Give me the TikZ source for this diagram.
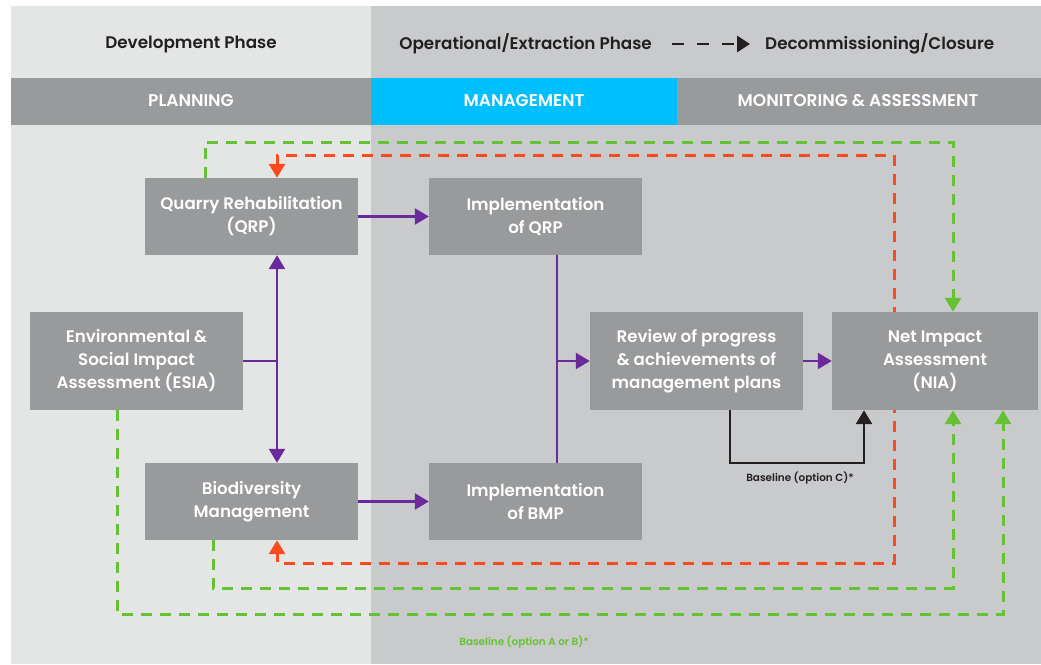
\documentclass[tikz,border=0pt]{standalone}
\usepackage{fontspec}
\setmainfont{Poppins}[BoldFont={* SemiBold}]
\usetikzlibrary{arrows.meta,backgrounds}
\definecolor{lpanel}{HTML}{E4E6E5}
\definecolor{rpanel}{HTML}{C9CACC}
\definecolor{boxgrey}{HTML}{999A9C}
\definecolor{cyanband}{HTML}{00BFFF}
\definecolor{purp}{HTML}{6A2A9C}
\definecolor{redd}{HTML}{FF4A1F}
\definecolor{grn}{HTML}{66C234}
\definecolor{blk}{HTML}{231F20}
\tikzset{
  box/.style={fill=boxgrey, text=white, font=\bfseries\fontsize{16.7}{23}\selectfont,
    minimum width=213pt, inner sep=0pt, align=center},
  bandlabel/.style={text=white, font=\bfseries\fontsize{17}{19}\selectfont},
  phase/.style={text=blk, font=\bfseries\fontsize{16.8}{18}\selectfont, inner sep=0pt},
  tip/.style={-{Triangle[length=14pt,width=16pt]}},
  tips/.style={{Triangle[length=14pt,width=16pt]}-{Triangle[length=14pt,width=16pt]}},
  purpline/.style={draw=purp, line width=2.5pt},
  redline/.style={draw=redd, line width=3pt, dash pattern=on 11pt off 8pt},
  grnline/.style={draw=grn, line width=3pt, dash pattern=on 11pt off 8pt},
  blkline/.style={draw=blk, line width=2.8pt},
  smalllab/.style={font=\bfseries\fontsize{10.4}{12}\selectfont},
}
\begin{document}
\begin{tikzpicture}[x=1pt,y=-1pt]
\useasboundingbox (0,0) rectangle (1041,664);
\begin{scope}[on background layer]
% panels and header bands
\fill[lpanel] (11,6) rectangle (371,664);
\fill[rpanel] (371,6) rectangle (1041,664);
\fill[boxgrey] (11,78) rectangle (371,125);
\fill[cyanband] (371,78) rectangle (677,125);
\fill[boxgrey] (677,78) rectangle (1041,125);
\end{scope}
\node[bandlabel] (plan) at (191,101) {PLANNING};
\node[bandlabel] (mgmt) at (524,101) {MANAGEMENT};
\node[bandlabel] (mon) at (858,101) {MONITORING \& ASSESSMENT};
% phase titles
\node[phase] (dev) at (191,44) {Development Phase};
\node[phase, anchor=east] (op) at (652,44) {Operational/Extraction Phase};
\node[phase, anchor=west] (dec) at (765,44) {Decommissioning/Closure};
\draw[draw=blk, line width=2.8pt, dash pattern=on 12pt off 13pt,
  -{Triangle[length=13pt,width=16pt]}] ([xshift=20pt]op.east) -- ([xshift=-15pt]dec.west);
% boxes
\node[box, minimum height=77pt] (qrp) at (251.5,216.5) {Quarry Rehabilitation\\(QRP)};
\node[box, minimum height=77pt] (iqrp) at (535.5,216.5) {Implementation\\of QRP};
\node[box, minimum height=98pt] (esia) at (136.5,361) {Environmental \&\\Social Impact\\Assessment (ESIA)};
\node[box, minimum height=77pt] (bio) at (251.5,501.5) {Biodiversity\\Management};
\node[box, minimum height=77pt] (ibmp) at (535.5,501.5) {Implementation\\of BMP};
\node[box, minimum height=98pt] (review) at (696.5,361) {Review of progress\\\& achievements of\\management plans};
\node[box, minimum height=98pt, minimum width=206pt] (nia) at (935,361) {Net Impact\\Assessment\\(NIA)};
% route coordinates
\coordinate (vx) at (277,0);
\coordinate (mx) at (557,0);
\coordinate (r1) at (894,155);
\coordinate (r2) at (894,563);
\coordinate (g1) at (205,142);
\coordinate (g1e) at (953,142);
\coordinate (g2) at (213,588);
\coordinate (g2e) at (953,588);
\coordinate (g3) at (117,614);
\coordinate (g3e) at (1003,614);
\coordinate (b1) at (730,463);
\coordinate (b2) at (864,463);
% red feedback loop (behind the NIA box)
\begin{scope}[on background layer]
\draw[redline, tips] (qrp.north -| vx) -- (vx |- r1) -- (r1) -- (r2) -- (vx |- r2) -- (bio.south -| vx);
\end{scope}
% purple flows
\draw[purpline, tips] (qrp.south -| vx) -- (bio.north -| vx);
\draw[purpline] (esia.east) -- (esia.east -| vx);
\draw[purpline, tip] (qrp) -- (iqrp);
\draw[purpline, tip] (bio) -- (ibmp);
\draw[purpline] (iqrp.south -| mx) -- (ibmp.north -| mx);
\draw[purpline, tip] (review.west -| mx) -- (review.west);
\draw[purpline, tip] (review) -- (nia);
% black baseline C
\draw[blkline, tip] (review.south -| b1) -- (b1) -- (b2) -- (nia.south -| b2);
\node[smalllab, text=blk] (labc) at (800,478) {Baseline (option C)*};
% green baselines
\draw[grnline, tip] (qrp.north -| g1) -- (g1) -- (g1e) -- (nia.north -| g1e);
\draw[grnline, tip] (bio.south -| g2) -- (g2) -- (g2e) -- (nia.south -| g2e);
\draw[grnline, tip] (esia.south -| g3) -- (g3) -- (g3e) -- (nia.south -| g3e);
\node[smalllab, text=grn] (labab) at (524,642) {Baseline (option A or B)*};
\end{tikzpicture}
\end{document}
